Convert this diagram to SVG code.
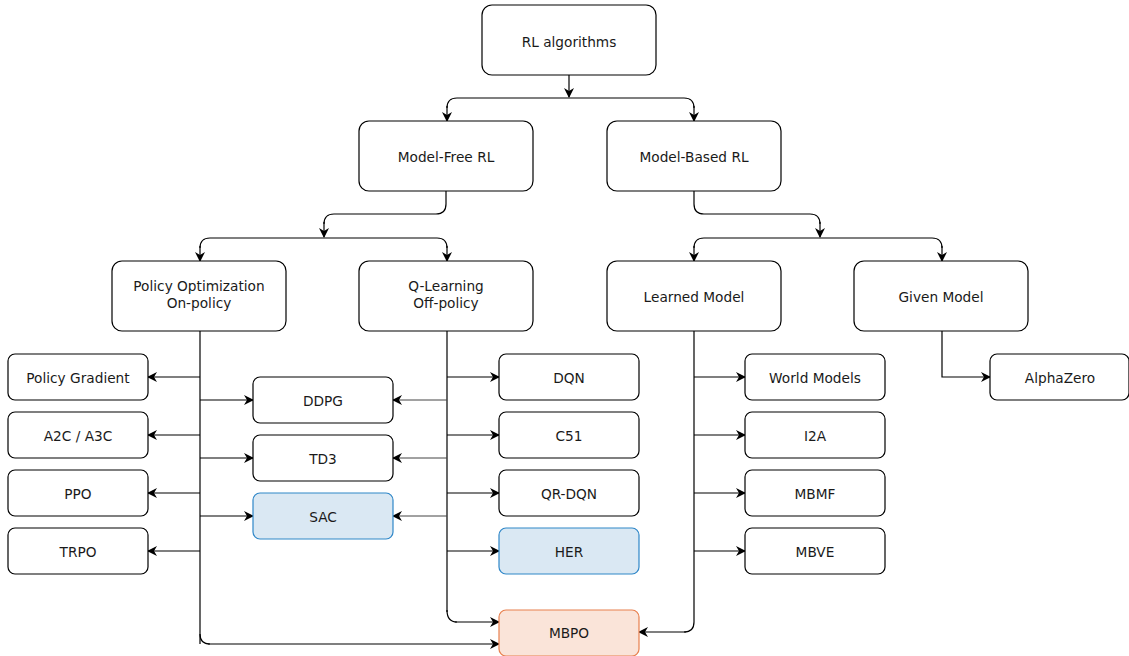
<svg xmlns="http://www.w3.org/2000/svg" width="1129" height="656" viewBox="0 0 1129 656">
<defs>
<marker id="ah" viewBox="0 0 10 10" refX="9" refY="5" markerWidth="10" markerHeight="10" markerUnits="userSpaceOnUse" orient="auto">
<path d="M0,0 L10,5 L0,10 L3,5 Z" fill="#000"/>
</marker>
<style>
.n rect{fill:#fff;stroke:#000;stroke-width:1.2}
.n text{font-family:"DejaVu Sans",Verdana,sans-serif;font-size:13.7px;fill:#1a1a1a;text-anchor:middle;dominant-baseline:central}
.b rect{fill:#dae8f3;stroke:#2f87c8}
.o rect{fill:#fae4d9;stroke:#e8804f}
.c path{fill:none;stroke:#000;stroke-width:1.2;marker-end:url(#ah)}
.c path.l{stroke:#444;stroke-width:1}
.c path.nm{marker-end:none}
</style>
</defs>
<rect width="1129" height="656" fill="#fff"/>
<g class="c" id="connectors">
<path d="M569,75 V97"/>
<path class="nm" d="M569,98 H457 Q447,98 447,108"/>
<path d="M447,106 V121"/>
<path class="nm" d="M569,98 H684 Q694,98 694,108"/>
<path d="M694,106 V121"/>
<path class="nm" d="M446,191 V204 Q446,214 436,214 H334 Q324,214 324,224"/>
<path d="M324,222 V237"/>
<path class="nm" d="M324,238 H210 Q200,238 200,248"/>
<path d="M200,246 V261"/>
<path class="nm" d="M324,238 H437 Q447,238 447,248"/>
<path d="M447,246 V261"/>
<path class="nm" d="M694,191 V204 Q694,214 704,214 H810 Q820,214 820,224"/>
<path d="M820,222 V237"/>
<path class="nm" d="M820,238 H704 Q694,238 694,248"/>
<path d="M694,246 V261"/>
<path class="nm" d="M820,238 H932 Q942,238 942,248"/>
<path d="M942,246 V261"/>
<path class="nm" d="M200,331 V644"/>
<path d="M200,377 H148"/>
<path d="M200,435 H148"/>
<path d="M200,493 H148"/>
<path d="M200,551 H148"/>
<path d="M200,400 H253"/>
<path d="M200,458 H253"/>
<path d="M200,516 H253"/>
<path class="nm" d="M200,634 Q200,644 210,644"/>
<path d="M208,644 H499"/>
<path class="nm" d="M447,331 V612"/>
<path d="M447,377 H499"/>
<path d="M447,435 H499"/>
<path d="M447,493 H499"/>
<path d="M447,551 H499"/>
<path class="l" d="M447,400 H393"/>
<path class="l" d="M447,458 H393"/>
<path class="l" d="M447,516 H393"/>
<path class="nm" d="M447,610 Q447,622 457,622"/>
<path d="M455,622 H499"/>
<path class="nm" d="M694,331 V622 Q694,632 684,632"/>
<path d="M686,632 H639"/>
<path d="M694,377 H745"/>
<path d="M694,435 H745"/>
<path d="M694,493 H745"/>
<path d="M694,551 H745"/>
<path d="M942,331 V377 H990"/>
</g>
<g class="n" id="rl"><rect x="482" y="5" width="174" height="70" rx="10"/><text x="569" y="42">RL algorithms</text></g>
<g class="n" id="mf"><rect x="359" y="121" width="174" height="70" rx="10"/><text x="446" y="157">Model-Free RL</text></g>
<g class="n" id="mb"><rect x="607" y="121" width="174" height="70" rx="10"/><text x="694" y="157">Model-Based RL</text></g>
<g class="n" id="po"><rect x="112" y="261" width="174" height="70" rx="10"/><text x="199" y="286">Policy Optimization</text><text x="199" y="303">On-policy</text></g>
<g class="n" id="ql"><rect x="359" y="261" width="174" height="70" rx="10"/><text x="446" y="286">Q-Learning</text><text x="446" y="303">Off-policy</text></g>
<g class="n" id="lm"><rect x="607" y="261" width="174" height="70" rx="10"/><text x="694" y="297">Learned Model</text></g>
<g class="n" id="gm"><rect x="854" y="261" width="174" height="70" rx="10"/><text x="941" y="297">Given Model</text></g>
<g class="n" id="pg"><rect x="8" y="354" width="140" height="46" rx="7"/><text x="78" y="378">Policy Gradient</text></g>
<g class="n" id="a2c"><rect x="8" y="412" width="140" height="46" rx="7"/><text x="78" y="436">A2C / A3C</text></g>
<g class="n" id="ppo"><rect x="8" y="470" width="140" height="46" rx="7"/><text x="78" y="494">PPO</text></g>
<g class="n" id="trpo"><rect x="8" y="528" width="140" height="46" rx="7"/><text x="78" y="552">TRPO</text></g>
<g class="n" id="ddpg"><rect x="253" y="377" width="140" height="46" rx="7"/><text x="323" y="401">DDPG</text></g>
<g class="n" id="td3"><rect x="253" y="435" width="140" height="46" rx="7"/><text x="323" y="459">TD3</text></g>
<g class="n b" id="sac"><rect x="253" y="493" width="140" height="46" rx="7"/><text x="323" y="517">SAC</text></g>
<g class="n" id="dqn"><rect x="499" y="354" width="140" height="46" rx="7"/><text x="569" y="378">DQN</text></g>
<g class="n" id="c51"><rect x="499" y="412" width="140" height="46" rx="7"/><text x="569" y="436">C51</text></g>
<g class="n" id="qrdqn"><rect x="499" y="470" width="140" height="46" rx="7"/><text x="569" y="494">QR-DQN</text></g>
<g class="n b" id="her"><rect x="499" y="528" width="140" height="46" rx="7"/><text x="569" y="552">HER</text></g>
<g class="n o" id="mbpo"><rect x="499" y="610" width="140" height="46" rx="7"/><text x="569" y="633">MBPO</text></g>
<g class="n" id="wm"><rect x="745" y="354" width="140" height="46" rx="7"/><text x="815" y="378">World Models</text></g>
<g class="n" id="i2a"><rect x="745" y="412" width="140" height="46" rx="7"/><text x="815" y="436">I2A</text></g>
<g class="n" id="mbmf"><rect x="745" y="470" width="140" height="46" rx="7"/><text x="815" y="494">MBMF</text></g>
<g class="n" id="mbve"><rect x="745" y="528" width="140" height="46" rx="7"/><text x="815" y="552">MBVE</text></g>
<g class="n" id="az"><rect x="990" y="354" width="139" height="46" rx="7"/><text x="1060" y="378">AlphaZero</text></g>
</svg>
